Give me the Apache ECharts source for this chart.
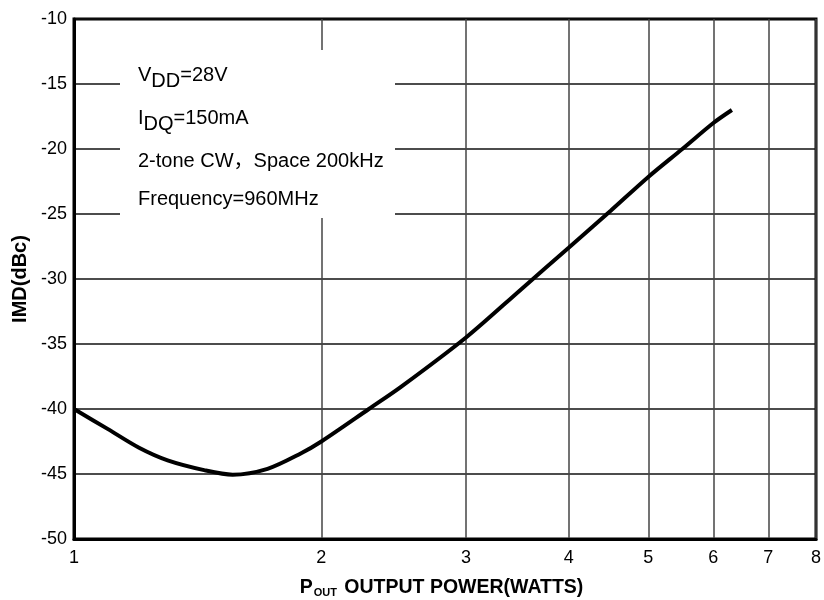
<!DOCTYPE html>
<html>
<head>
<meta charset="utf-8">
<script src="https://cdn.jsdelivr.net/npm/echarts@6/dist/echarts.min.js"></script>
<style>
  html, body { margin: 0; padding: 0; background: #fff; }
  #chart { width: 824px; height: 600px; }
</style>
</head>
<body>
<div id="chart"></div>
<script>
// output power (W) and IMD (dBc)
const powerW = [1, 1.1, 1.2, 1.3, 1.44, 1.56, 1.72, 1.89, 2, 2.285, 2.5, 3, 3.5, 4, 4.5, 5, 5.5, 6, 6.32];
const imdDbc = [-40, -41.55, -42.98, -43.95, -44.7, -45.05, -44.6, -43.4, -42.5, -40, -38.3, -34.5, -30.8, -27.6, -24.75, -22.15, -20.0, -18.0, -17.0];
const xTicks = [1, 2, 3, 4, 5, 6, 7, 8];
const yMin = -50, yMax = -10, yStep = 5;

const FONT = 'Liberation Sans, Arial, Noto Sans CJK SC, sans-serif';
const chart = echarts.init(document.getElementById('chart'));

// note box text (subscripts done with rich padding)
const notes = [
    '{n|V}{s|DD}{n|=28V}',
    '{n|I}{s|DQ}{n|=150mA}',
    '{n|2-tone CW，Space 200kHz}',
    '{n|Frequency=960MHz}'
];
const noteY = [75, 118, 161, 199];
const noteRich = {
    n: { fontSize: 20, fontFamily: FONT, color: '#000' },
    s: { fontSize: 20, fontFamily: FONT, color: '#000', padding: [12, 0, 0, 0] }
};

const graphics = [{
    type: 'rect',
    left: 120, top: 50,
    shape: { width: 275, height: 168 },
    style: { fill: '#fff' },
    z: 50
}];
notes.forEach(function (t, i) {
    graphics.push({
        type: 'text',
        x: 138,
        y: noteY[i],
        z: 51,
        style: { text: t, rich: noteRich, fontFamily: FONT, fontSize: 20, verticalAlign: 'middle' }
    });
});

const option = {
    animation: false,
    backgroundColor: '#fff',
    grid: {
        left: 74, right: 8, top: 19, bottom: 61,
        outerBoundsMode: 'none',
        containLabel: false,
        show: true,
        borderColor: '#000',
        borderWidth: 3
    },
    xAxis: {
        type: 'log',
        logBase: 10,
        min: 1,
        max: 8,
        name: '{p|P}{o|OUT}{p| OUTPUT POWER(WATTS)}',
        nameLocation: 'middle',
        nameGap: 38,
        nameTextStyle: {
            padding: [0, 7, 0, 0],
            rich: {
                p: { fontSize: 19.5, fontWeight: 'bold', fontFamily: FONT, color: '#000' },
                o: { fontSize: 11, fontWeight: 'bold', fontFamily: FONT, color: '#000', padding: [10, 2, 0, 1] }
            }
        },
        axisLine: { show: true, lineStyle: { color: '#000', width: 3 } },
        axisTick: { show: false, customValues: xTicks },
        axisLabel: {
            customValues: xTicks,
            color: '#000', fontSize: 18, fontFamily: FONT, margin: 10
        },
        splitLine: { show: true, lineStyle: { color: '#444', width: 1.5 } },
        minorSplitLine: { show: false }
    },
    yAxis: {
        type: 'value',
        min: yMin,
        max: yMax,
        interval: yStep,
        name: 'IMD(dBc)',
        nameLocation: 'middle',
        nameGap: 43,
        nameTextStyle: { fontSize: 20, fontWeight: 'bold', fontFamily: FONT, color: '#000' },
        axisLine: { show: true, lineStyle: { color: '#000', width: 3 } },
        axisTick: { show: false },
        axisLabel: { color: '#000', fontSize: 18, fontFamily: FONT, margin: 7 },
        splitLine: { show: true, lineStyle: { color: '#111', width: 1.5 } }
    },
    graphic: graphics,
    series: [{
        type: 'line',
        data: powerW.map(function (p, i) { return [p, imdDbc[i]]; }),
        smooth: 0.3,
        symbol: 'none',
        lineStyle: { color: '#000', width: 4 },
        z: 10
    }]
};
chart.setOption(option);
</script>
</body>
</html>
